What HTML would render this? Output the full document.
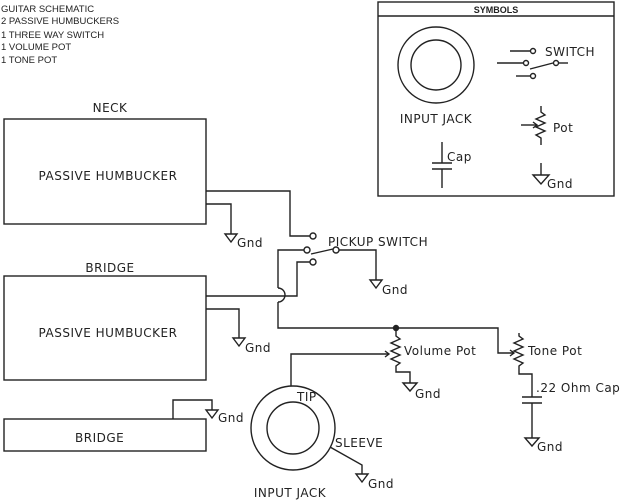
<!DOCTYPE html>
<html><head><style>
html,body{margin:0;padding:0;background:#fff;}
svg{display:block}
text{font-family:"DejaVu Sans","Liberation Sans",sans-serif;fill:#222;}
.t{font-size:12px;letter-spacing:0.5px}
.s{font-family:"Liberation Sans",sans-serif;font-size:9.5px}
</style></head><body>
<svg width="620" height="500" viewBox="0 0 620 500" xmlns="http://www.w3.org/2000/svg" fill="none" stroke="#222" stroke-width="1.4">
<g stroke="none">
<text class="s" x="1" y="12">GUITAR SCHEMATIC</text>
<text class="s" x="1" y="24">2 PASSIVE HUMBUCKERS</text>
<text class="s" x="1" y="38">1 THREE WAY SWITCH</text>
<text class="s" x="1" y="50">1 VOLUME POT</text>
<text class="s" x="1" y="63">1 TONE POT</text>
</g>
<!-- Symbols box -->
<rect x="378" y="2" width="236" height="194"/>
<line x1="378" y1="16" x2="614" y2="16"/>
<text x="496" y="13" text-anchor="middle" stroke="none" style="font-family:'Liberation Sans',sans-serif;font-size:9px;font-weight:bold">SYMBOLS</text>
<circle cx="436" cy="65" r="38"/><circle cx="436" cy="65" r="25"/>
<text class="t" x="436" y="123" text-anchor="middle" stroke="none">INPUT JACK</text>
<line x1="510" y1="51" x2="531" y2="51"/><circle cx="533" cy="51" r="2.5"/>
<line x1="497" y1="63" x2="524" y2="63"/><circle cx="526" cy="63" r="2.5"/>
<line x1="530" y1="69" x2="553" y2="63"/><circle cx="556" cy="63" r="2.5"/><line x1="558" y1="63" x2="568" y2="63"/>
<line x1="516" y1="76" x2="531" y2="76"/><circle cx="533" cy="76" r="2.5"/>
<text class="t" x="545" y="56" stroke="none">SWITCH</text>
<polyline points="541,106 541,112 545,115 536,119 545,123 536,127 545,131 536,135 541,138 541,145"/>
<line x1="521" y1="125" x2="537" y2="125"/><polyline points="533,122 537,125 533,128"/>
<text class="t" x="553" y="132" stroke="none">Pot</text>
<line x1="442" y1="142" x2="442" y2="163"/><line x1="432" y1="163" x2="452" y2="163"/><line x1="432" y1="169" x2="452" y2="169"/><line x1="442" y1="169" x2="442" y2="188"/>
<text class="t" x="447" y="161" stroke="none">Cap</text>
<line x1="541" y1="163" x2="541" y2="175"/><polygon points="533,175 549,175 541,184"/>
<text class="t" x="547" y="188" stroke="none">Gnd</text>

<!-- Neck -->
<text class="t" x="110" y="112" text-anchor="middle" stroke="none">NECK</text>
<rect x="4" y="119" width="202" height="105"/>
<text class="t" x="108" y="180" text-anchor="middle" stroke="none">PASSIVE HUMBUCKER</text>
<polyline points="206,191 290,191 290,236 310,236"/><circle cx="313" cy="236" r="3"/>
<polyline points="206,204 231,204 231,234"/><polygon points="225,234 237,234 231,242"/>
<text class="t" x="237" y="247" stroke="none">Gnd</text>

<!-- Switch -->
<circle cx="307" cy="250" r="3"/><circle cx="336" cy="250" r="3"/><circle cx="313" cy="262" r="3"/>
<line x1="311" y1="254" x2="333" y2="249"/>
<text class="t" x="328" y="246" stroke="none">PICKUP SWITCH</text>
<polyline points="339,250 376,250 376,280"/><polygon points="370,280 382,280 376,288"/>
<text class="t" x="382" y="294" stroke="none">Gnd</text>
<polyline points="304,250 278,250 278,288"/>
<path d="M278,288 A7,7 0 0 1 278,302"/>
<polyline points="278,302 278,328 498,328 498,353 513,353"/>
<polyline points="510,350 514,353 510,356"/>
<polyline points="310,262 297,262 297,296 206,296"/>
<circle cx="396" cy="328" r="2.5" fill="#222"/>

<!-- Bridge -->
<text class="t" x="110" y="272" text-anchor="middle" stroke="none">BRIDGE</text>
<rect x="4" y="276" width="202" height="104"/>
<text class="t" x="108" y="337" text-anchor="middle" stroke="none">PASSIVE HUMBUCKER</text>
<polyline points="206,309 239,309 239,338"/><polygon points="233,338 245,338 239,346"/>
<text class="t" x="245" y="352" stroke="none">Gnd</text>

<rect x="4" y="419" width="202" height="32"/>
<text class="t" x="75" y="442" stroke="none">BRIDGE</text>
<polyline points="173,419 173,400 212,400 212,410"/><polygon points="206,410 218,410 212,418"/>
<text class="t" x="218" y="422" stroke="none">Gnd</text>

<!-- Volume pot -->
<polyline points="396,328 396,336 400,339 391,343 400,347 391,351 400,355 391,359 400,363 396,366 396,372 410,372 410,383"/>
<polygon points="403,383 417,383 410,391"/>
<text class="t" x="415" y="398" stroke="none">Gnd</text>
<text class="t" x="404" y="355" stroke="none">Volume Pot</text>
<polyline points="291,386 291,354 389,354"/><polyline points="385,351 389,354 385,357"/>

<!-- Tone pot -->
<polyline points="519,333 519,336 523,339 514,343 523,347 514,351 523,355 514,359 523,363 519,366 519,374 532,374 532,397"/>
<line x1="522" y1="397" x2="542" y2="397"/><line x1="522" y1="403" x2="542" y2="403"/>
<polyline points="532,403 532,438"/><polygon points="525,438 539,438 532,446"/>
<text class="t" x="537" y="451" stroke="none">Gnd</text>
<text class="t" x="528" y="355" stroke="none">Tone Pot</text>
<text class="t" x="536" y="392" stroke="none">.22 Ohm Cap</text>

<!-- Jack -->
<circle cx="293" cy="428" r="42"/><circle cx="293" cy="428" r="26"/>
<text class="t" x="297" y="401" stroke="none">TIP</text>
<text class="t" x="335" y="447" stroke="none">SLEEVE</text>
<polyline points="330,447 362,465 362,474"/><polygon points="356,474 368,474 362,482"/>
<text class="t" x="368" y="488" stroke="none">Gnd</text>
<text class="t" x="290" y="497" text-anchor="middle" stroke="none">INPUT JACK</text>
</svg>
</body></html>
